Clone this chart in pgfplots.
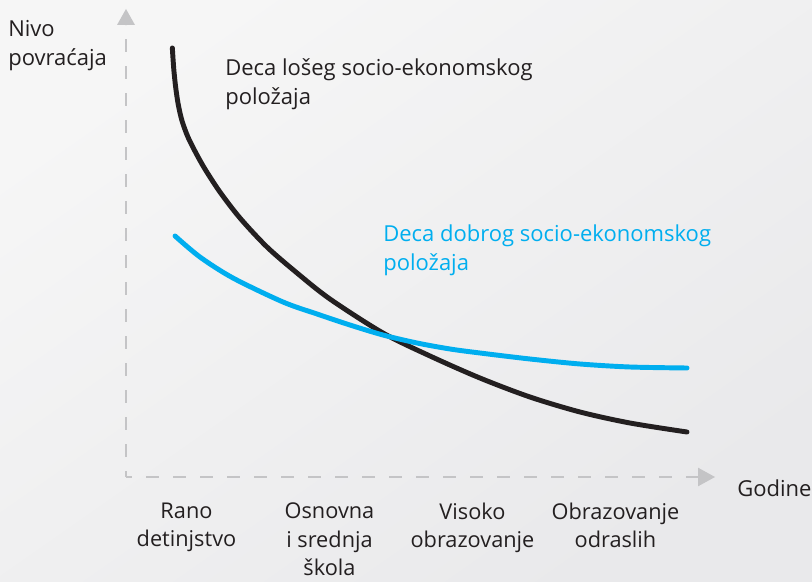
\documentclass[border=0pt]{standalone}
\usepackage{pgfplots}
\pgfplotsset{compat=1.18}
\usepackage{fontspec}
\setmainfont{Open Sans}
\usetikzlibrary{arrows.meta}
\definecolor{bgA}{RGB}{246,246,246}
\definecolor{bgC}{RGB}{233,233,235}
\definecolor{axgray}{RGB}{196,196,198}
\definecolor{darkline}{RGB}{35,31,32}
\definecolor{cyanline}{RGB}{0,174,239}
\newcommand\lblfont{\fontsize{16.5}{21.75}\selectfont}
\newcommand\tickfont{\fontsize{16.3}{21.6}\selectfont}
\begin{document}
\begin{tikzpicture}
% background (pixel frame: X=(px-126)*0.75pt, Y=(477-py)*0.75pt)
\shade[top color=bgA, bottom color=bgC, shading angle=35]
  (-94.5pt,-78pt) rectangle (514.5pt,357.75pt);
\begin{axis}[
  at={(0pt,0pt)}, anchor=south west,
  x=107.25pt, y=75pt,
  xmin=0.577, xmax=4.703, ymin=0, ymax=4.68,
  axis line style={draw=none},
  major tick length=0pt,
  ytick=\empty,
  xtick={1,2,3,4},
  xticklabels={Rano\\detinjstvo, Osnovna\\i srednja\\škola, Visoko\\obrazovanje, Obrazovanje\\odraslih},
  xticklabel style={align=center, font=\tickfont, text=darkline, anchor=north, yshift=-19pt, inner sep=0pt},
  clip=false,
]
\addplot[darkline, line width=3.7pt, line cap=round, smooth] coordinates {
 (0.901,4.29) (0.911,4.08) (0.925,3.89) (0.943,3.72) (0.969,3.56) (1.010,3.40)
 (1.066,3.24) (1.129,3.08) (1.234,2.85) (1.374,2.59) (1.563,2.30) (1.773,2.04)
 (2.003,1.78) (2.374,1.44) (2.703,1.21) (3.052,0.99) (3.402,0.80) (3.752,0.65)
 (4.101,0.54) (4.500,0.45)};
\addplot[cyanline, line width=3.7pt, line cap=round, smooth] coordinates {
 (0.920,2.41) (1.094,2.20) (1.325,1.99) (1.675,1.75) (1.913,1.63) (2.143,1.52)
 (2.374,1.42) (2.612,1.34) (2.843,1.28) (3.052,1.24) (3.402,1.18) (3.752,1.13)
 (4.101,1.10) (4.500,1.09)};
\end{axis}
% dashed axes
\draw[axgray, line width=2pt, dash pattern=on 9.75pt off 10.5pt, dash phase=5.25pt]
  (0pt,0pt) -- (0pt,339pt);
\draw[axgray, line width=2pt, dash pattern=on 9.75pt off 10.5pt, dash phase=5.25pt]
  (0pt,0pt) -- (429pt,0pt);
\fill[axgray] (-6.75pt,339pt) -- (0pt,351pt) -- (6.75pt,339pt) -- cycle;
\fill[axgray] (429pt,-7pt) -- (441.75pt,0pt) -- (429pt,7pt) -- cycle;
% labels (base anchor of a two-line node = baseline of its last line)
\node[anchor=base west, inner sep=0pt, align=left, font=\lblfont, text=darkline]
  at (-88.5pt,308.25pt) {Nivo\\povraćaja};
\node[anchor=base west, inner sep=0pt, font=\lblfont, text=darkline]
  at (458.25pt,-14.25pt) {Godine};
\node[anchor=base west, inner sep=0pt, align=left, font=\lblfont, text=darkline]
  at (74.25pt,279pt) {Deca lošeg socio-ekonomskog\\položaja};
\node[anchor=base west, inner sep=0pt, align=left, font=\lblfont, text=cyanline]
  at (192.75pt,154.5pt) {Deca dobrog socio-ekonomskog\\položaja};
\pgfresetboundingbox
\path (-94.5pt,-78pt) rectangle (514.5pt,357.75pt);
\end{tikzpicture}
\end{document}
